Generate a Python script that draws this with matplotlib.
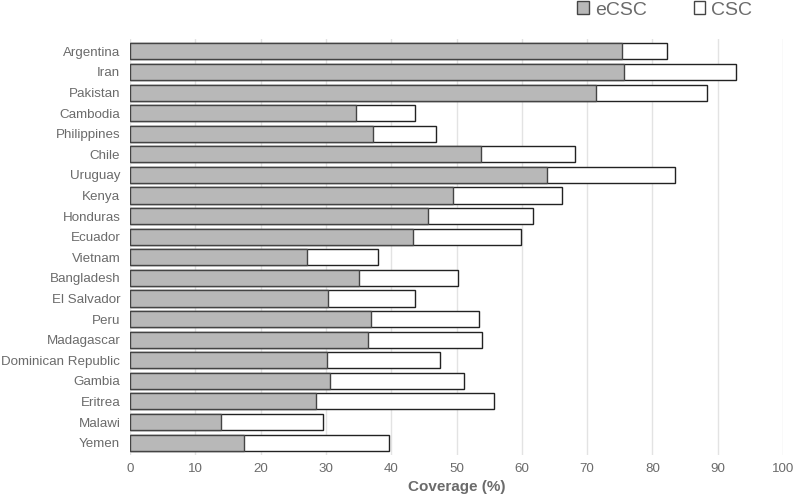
import matplotlib
matplotlib.use("Agg")
import matplotlib.pyplot as plt
from matplotlib.patches import Patch

countries = [
    "Argentina", "Iran", "Pakistan", "Cambodia", "Philippines", "Chile",
    "Uruguay", "Kenya", "Honduras", "Ecuador", "Vietnam", "Bangladesh",
    "El Salvador", "Peru", "Madagascar", "Dominican Republic", "Gambia",
    "Eritrea", "Malawi", "Yemen",
]
ecsc = [75.3, 75.6, 71.3, 34.6, 37.2, 53.8, 63.8, 49.4, 45.7, 43.3,
        27.1, 35.1, 30.3, 36.9, 36.5, 30.2, 30.7, 28.5, 13.9, 17.4]
csc = [82.2, 92.8, 88.4, 43.6, 46.9, 68.1, 83.5, 66.1, 61.7, 59.9,
       38.0, 50.2, 43.6, 53.5, 53.9, 47.5, 51.1, 55.7, 29.6, 39.6]

plt.rcParams["font.family"] = ["Liberation Sans", "DejaVu Sans"]
text_color = "#6b6b6b"
grey = "#b8b8b8"

fig = plt.figure(figsize=(7.94, 4.99), dpi=100)
ax = fig.add_axes([130 / 794, 44 / 499, 653 / 794, 416 / 499])

pos = list(range(len(countries)))
ax.barh(pos, csc, height=0.78, color="white", edgecolor="#222222", linewidth=1.0, zorder=2)
ax.barh(pos, ecsc, height=0.78, color=grey, edgecolor="#444444", linewidth=1.0, zorder=3)

ax.set_xlim(0, 100)
ax.set_ylim(19.6, -0.6)
ax.set_xticks(range(0, 101, 10))
ax.set_yticks(pos)
ax.set_yticklabels(countries)
ax.tick_params(axis="both", length=0, colors=text_color, labelsize=9.6)
ax.tick_params(axis="x", pad=6)
ax.tick_params(axis="y", pad=7)
ax.grid(axis="x", color="#e3e3e3", linewidth=1, zorder=0)
ax.set_axisbelow(True)
for s in ax.spines.values():
    s.set_visible(False)

ax.set_xlabel("Coverage (%)", color=text_color, fontsize=11, fontweight="bold", labelpad=3)

handles = [
    Patch(facecolor=grey, edgecolor="#444444", label="eCSC"),
    Patch(facecolor="white", edgecolor="#444444", label="CSC"),
]
fig.legend(handles=handles, loc="center right", bbox_to_anchor=(752 / 794, 1 - 10 / 499),
           ncol=2, frameon=False, fontsize=14, labelcolor=text_color,
           handlelength=0.6, handleheight=0.6, handletextpad=0.3, columnspacing=2.4,
           borderpad=0, borderaxespad=0)

fig.savefig("out.png", dpi=100)
